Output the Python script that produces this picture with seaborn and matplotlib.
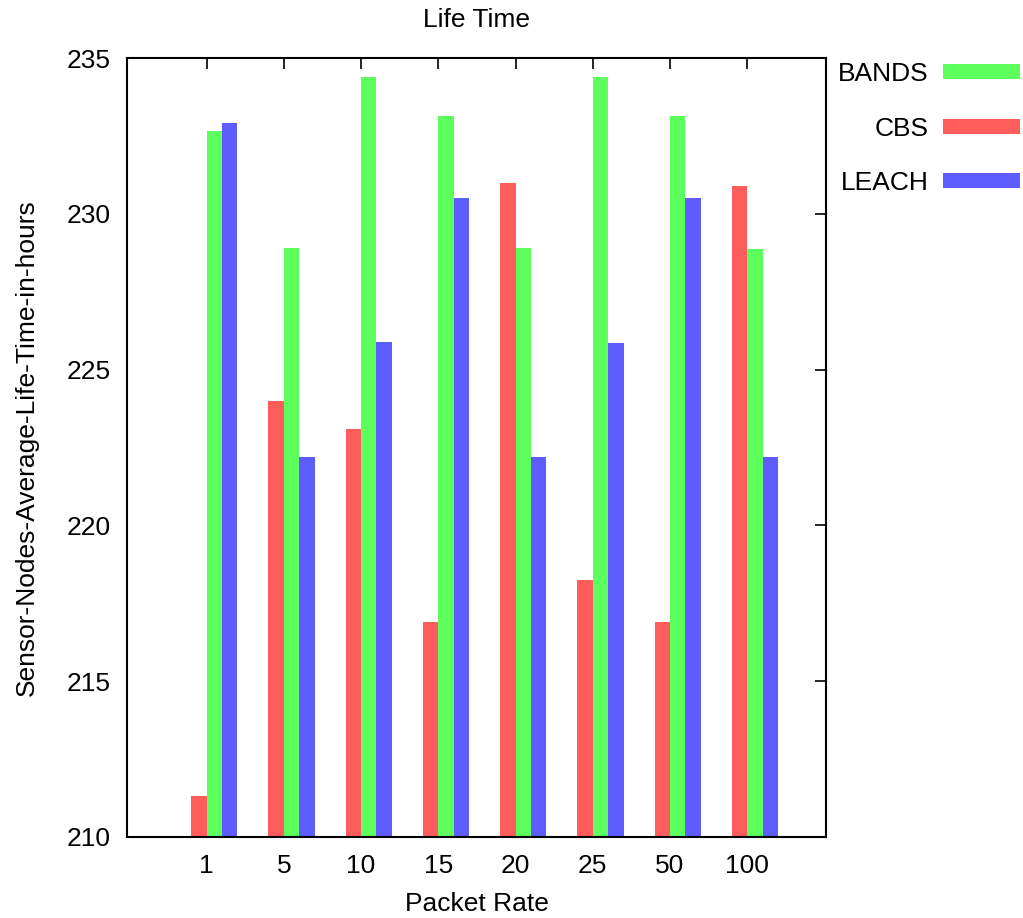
import matplotlib
matplotlib.use("Agg")
import matplotlib.pyplot as plt
import seaborn as sns
import pandas as pd
import numpy as np

categories = ["1", "5", "10", "15", "20", "25", "50", "100"]
bands = [232.66, 228.9, 234.4, 233.15, 228.9, 234.4, 233.15, 228.87]
cbs = [211.3, 224.0, 223.1, 216.9, 231.0, 218.25, 216.9, 230.9]
leach = [232.9, 222.2, 225.9, 230.5, 222.2, 225.85, 230.5, 222.2]

colors = {"BANDS": "#5cff5c", "CBS": "#ff5c5c", "LEACH": "#5c5cff"}

rows = []
for name, vals in [("CBS", cbs), ("BANDS", bands), ("LEACH", leach)]:
    for c, v in zip(categories, vals):
        rows.append({"Packet Rate": c, "value": v, "series": name})
df = pd.DataFrame(rows)

sns.set_theme(style="white")
plt.rcParams['font.family'] = ['Liberation Sans', 'DejaVu Sans']
plt.rcParams['text.color'] = 'black'
plt.rcParams['axes.labelcolor'] = 'black'
plt.rcParams['xtick.color'] = 'black'
plt.rcParams['ytick.color'] = 'black'

FS = 19
fig = plt.figure(figsize=(10.23, 9.18), dpi=100)
ax = fig.add_axes([127/1023, 1-837/918, (826-127)/1023, (837-58)/918])

sns.barplot(data=df, x="Packet Rate", y="value", hue="series",
            order=categories, hue_order=["CBS", "BANDS", "LEACH"],
            palette=colors, width=0.6, linewidth=0, saturation=1,
            errorbar=None, ax=ax)

ax.set_ylim(210, 235)
ax.set_yticks([210, 215, 220, 225, 230, 235])
ax.set_xticks(np.arange(len(categories)) - 0.1)
ax.set_xticklabels(categories)
ax.set_xlim(-1.13, 7.92)

ax.tick_params(axis="both", direction="in", length=8, width=1.2, top=True, right=True,
               labelsize=FS, colors="black", labelcolor="black", pad=12)
ax.tick_params(axis="y", pad=12)
for s in ax.spines.values():
    s.set_visible(True)
    s.set_color("black")
    s.set_linewidth(1.5)

ax.set_title("Life Time", fontsize=FS, pad=22, color="black")
ax.set_xlabel("Packet Rate", fontsize=FS, labelpad=10, color="black")
ax.set_ylabel("Sensor-Nodes-Average-Life-Time-in-hours", fontsize=FS, labelpad=20, color="black")

handles, labels = ax.get_legend_handles_labels()
hmap = dict(zip(labels, handles))
order = ["BANDS", "CBS", "LEACH"]
leg = ax.legend([hmap[k] for k in order], order, loc="upper right",
          bbox_to_anchor=(1020/1023, 1-62/918), bbox_transform=fig.transFigure,
          frameon=False, markerfirst=False, fontsize=FS,
          handlelength=2.9, handleheight=0.5, labelspacing=1.16, handletextpad=0.55,
          borderaxespad=0, borderpad=0)
for t in leg.get_texts():
    t.set_color("black")

fig.savefig("out.png", dpi=100)
